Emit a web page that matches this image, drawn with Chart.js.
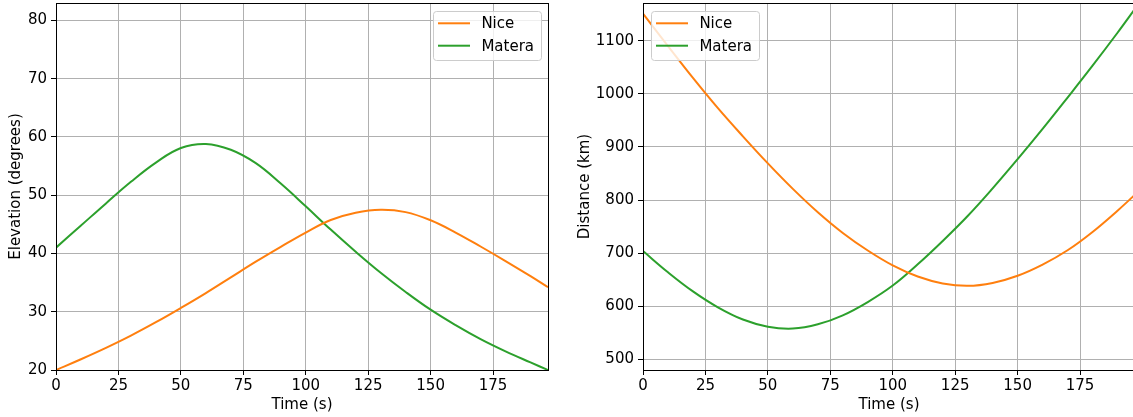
<!DOCTYPE html>
<html>
<head>
<meta charset="utf-8">
<script src="https://cdn.jsdelivr.net/npm/chart.js@4.4.1/dist/chart.umd.min.js"></script>
<style>
    html, body { margin: 0; padding: 0; background: #fff; overflow: hidden; width: 1133px; height: 417px; }
    canvas { position: absolute; top: 0; }
    #elevation-chart { left: 0; }
    #distance-chart { left: 560px; }
</style>
</head>
<body>
<canvas id="elevation-chart" width="560" height="417"></canvas>
<canvas id="distance-chart" width="590" height="417"></canvas>
<script>
const timeS = [0, 10, 20, 30, 40, 50, 60, 70, 80, 90, 100, 110, 120, 130, 140, 150, 160, 170, 180, 190, 197];
const elevationNice = [20.0, 21.85, 23.8, 25.9, 28.2, 30.65, 33.2, 35.9, 38.6, 41.15, 43.6, 45.75, 47.0, 47.5, 47.1, 45.7, 43.6, 41.2, 38.7, 36.1, 34.2];
const elevationMatera = [41.0, 44.8, 48.6, 52.3, 55.6, 58.1, 58.8, 57.8, 55.5, 52.0, 48.1, 44.1, 40.3, 36.7, 33.4, 30.35, 27.7, 25.3, 23.2, 21.3, 20.0];
const distanceNice = [1151, 1090, 1030, 973, 920, 869, 821, 777, 738, 705, 677, 656, 643, 638.5, 644, 657.5, 678.5, 705.5, 740, 780, 810];
const distanceMatera = [704, 664, 628, 598, 575, 561.5, 558, 566, 583, 608, 639, 679, 723, 770, 822, 877, 934, 993, 1053, 1115, 1160];

const timeTicks = [0, 25, 50, 75, 100, 125, 150, 175];
const elevationTicks = [20, 30, 40, 50, 60, 70, 80];
const distanceTicks = [500, 600, 700, 800, 900, 1000, 1100];

const NICE_COLOR = '#ff7f0e';
const MATERA_COLOR = '#2ca02c';

Chart.defaults.font.family = '"DejaVu Sans", sans-serif';
Chart.defaults.font.size = 15;
Chart.defaults.color = '#000';

// top/right spines like matplotlib
const framePlugin = {
    id: 'frame',
    afterDatasetsDraw(chart) {
        const { ctx, chartArea: a } = chart;
        ctx.save();
        ctx.strokeStyle = '#000';
        ctx.lineWidth = 1;
        ctx.strokeRect(Math.round(a.left) + 0.5, Math.round(a.top) + 0.5,
            Math.round(a.right - a.left), Math.round(a.bottom - a.top));
        ctx.restore();
    }
};

// boxed legend inside the plot area
const boxLegend = {
    id: 'boxLegend',
    afterDraw(chart, args, opts) {
        const { ctx, chartArea: a } = chart;
        const sets = chart.data.datasets;
        ctx.save();
        ctx.font = '15px "DejaVu Sans"';
        const textW = Math.max(...sets.map(d => ctx.measureText(d.label).width));
        const w = Math.round(48.4 + textW + 6.7);
        const h = 49;
        const x = opts.side === 'right' ? Math.round(a.right - 7 - w) : Math.round(a.left + 8);
        const y = Math.round(a.top + 8);
        ctx.beginPath();
        ctx.roundRect(x + 0.5, y + 0.5, w, h, 3);
        ctx.fillStyle = 'rgba(255,255,255,0.8)';
        ctx.fill();
        ctx.strokeStyle = '#cccccc';
        ctx.lineWidth = 1;
        ctx.stroke();
        sets.forEach((d, i) => {
            const ly = y + 12.3 + i * 22.4;
            ctx.strokeStyle = d.borderColor;
            ctx.lineWidth = 2;
            ctx.beginPath();
            ctx.moveTo(x + 5, ly);
            ctx.lineTo(x + 37, ly);
            ctx.stroke();
            ctx.fillStyle = '#000';
            ctx.textBaseline = 'middle';
            ctx.fillText(d.label, x + 48.4, ly + 1);
        });
        ctx.restore();
    }
};

function toPoints(values) {
    return timeS.map((t, i) => ({ x: t, y: values[i] }));
}

function makeChart(canvasId, opts) {
    const ctx = document.getElementById(canvasId).getContext('2d');
    return new Chart(ctx, {
        type: 'line',
        data: {
            datasets: [
                { label: 'Nice', data: toPoints(opts.nice), borderColor: NICE_COLOR },
                { label: 'Matera', data: toPoints(opts.matera), borderColor: MATERA_COLOR }
            ]
        },
        options: {
            responsive: false,
            animation: false,
            layout: { padding: { top: 3, right: opts.rightPad, left: 0, bottom: 0 } },
            elements: {
                line: { borderWidth: 2, tension: 0.4, fill: false },
                point: { radius: 0 }
            },
            scales: {
                x: {
                    type: 'linear',
                    min: 0,
                    max: 197,
                    afterBuildTicks: s => { s.ticks = timeTicks.map(v => ({ value: v })); },
                    afterFit: s => { s.height = 47; s.paddingLeft = 0; s.paddingRight = 0; },
                    grid: { color: '#b0b0b0', lineWidth: 1, tickColor: '#000', tickWidth: 1, tickLength: 5 },
                    border: { color: '#000', width: 1 },
                    ticks: { padding: 2, maxRotation: 0, callback: v => String(v) },
                    title: { display: true, text: 'Time (s)', padding: { top: 0, bottom: 3 } }
                },
                y: {
                    type: 'linear',
                    min: opts.yMin,
                    max: opts.yMax,
                    afterBuildTicks: s => { s.ticks = opts.yTicks.map(v => ({ value: v })); },
                    afterFit: s => { s.width = opts.yAxisWidth; s.paddingTop = 0; s.paddingBottom = 0; },
                    grid: { color: '#b0b0b0', lineWidth: 1, tickColor: '#000', tickWidth: 1, tickLength: 5 },
                    border: { color: '#000', width: 1 },
                    ticks: { padding: 4, callback: v => String(v) },
                    title: { display: true, text: opts.yTitle, padding: { top: opts.titlePad, bottom: 0 } }
                }
            },
            plugins: {
                legend: { display: false },
                tooltip: { enabled: false },
                boxLegend: { side: opts.legendSide }
            }
        },
        plugins: [framePlugin, boxLegend]
    });
}

makeChart('elevation-chart', {
    nice: elevationNice,
    matera: elevationMatera,
    yTicks: elevationTicks,
    yMin: 20,
    yMax: 83,
    yTitle: 'Elevation (degrees)',
    yAxisWidth: 56,
    titlePad: 7.5,
    rightPad: 12,
    legendSide: 'right'
});

makeChart('distance-chart', {
    nice: distanceNice,
    matera: distanceMatera,
    yTicks: distanceTicks,
    yMin: 480,
    yMax: 1171,
    yTitle: 'Distance (km)',
    yAxisWidth: 83,
    titlePad: 16.5,
    rightPad: 15,
    legendSide: 'left'
});
</script>
</body>
</html>
